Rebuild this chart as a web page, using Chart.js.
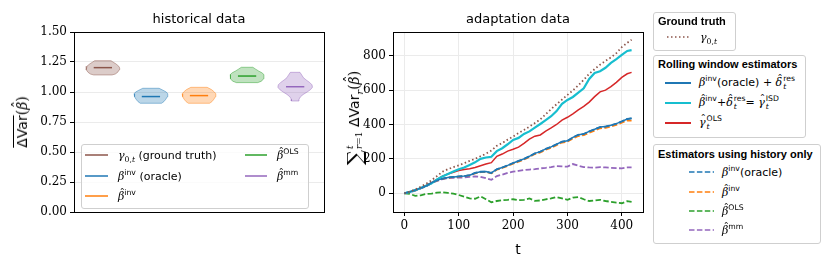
<!DOCTYPE html>
<html>
<head>
<meta charset="utf-8">
<script src="https://cdn.jsdelivr.net/npm/chart.js@4.4.0/dist/chart.umd.min.js"></script>
<style>
body { margin: 0; background: #fff; width: 830px; height: 269px; overflow: hidden; position: relative; font-family: "DejaVu Sans", sans-serif; color: #000; }
canvas { position: absolute; top: 0; }
.title { position: absolute; font-size: 13px; transform: translate(-50%, -50%); white-space: nowrap; }
.ylab { position: absolute; transform: translate(-50%, -50%) rotate(-90deg); white-space: nowrap; font-size: 14px; }
.m { font-family: "DejaVu Serif", "Liberation Serif", serif; font-style: italic; }
.r { font-family: "DejaVu Serif", "Liberation Serif", serif; }
.hat { position: relative; display: inline-block; }
.hat::after { content: "\02C6"; position: absolute; left: 0.14em; top: -0.3em; font-style: normal; }
.ss { display: inline-flex; flex-direction: column; vertical-align: middle; font-size: 70%; line-height: 1.05; margin-left: 1px; }
sup, sub { font-size: 70%; line-height: 0; }
.box { position: absolute; border: 1px solid #cfcfcf; border-radius: 3px; background: rgba(255,255,255,0.8); }
.btitle { position: absolute; font-family: "Liberation Sans", sans-serif; font-weight: bold; font-size: 11px; white-space: nowrap; transform: translateY(-50%); }
.row { position: absolute; white-space: nowrap; transform: translateY(-50%); font-size: 11px; }
svg { position: absolute; }
</style>
</head>
<body>
<canvas id="histChart" width="330" height="269" style="left:0px"></canvas>
<canvas id="adaptChart" width="320" height="269" style="left:330px"></canvas>
<div class="title" style="left:199px;top:18px">historical data</div>
<div class="title" style="left:518px;top:18px">adaptation data</div>
<div class="ylab" style="left:22px;top:122px"><span style="text-decoration:overline">ΔVar</span><span class="r">(</span><span class="m hat">β</span><span class="r">)</span></div>
<div class="ylab" style="left:355px;top:118px"><span class="r" style="font-size:21px;vertical-align:-3px">∑</span><span class="ss" style="font-size:9px"><span class="m">t</span><span><span class="m">r</span><span class="r">=1</span></span></span> ΔVar<sub class="m">r</sub><span class="r">(</span><span class="m hat">β</span><span class="r">)</span></div>
<div class="title" style="left:518px;top:249px;font-size:14px">t</div>
<div id="legends"></div>

<script>
// Historical data: violins (value levels and half widths)
const violinNames = ['gamma', 'invOracle', 'inv', 'ols', 'mm'];
const violinPos = [0, 1, 2, 3, 4];
const violinMedian = [1.203, 0.962, 0.970, 1.133, 1.044];
const violinLevels = [
    [1.142, 1.150, 1.165, 1.185, 1.200, 1.215, 1.235, 1.250, 1.261],
    [0.906, 0.920, 0.940, 0.960, 0.985, 1.000, 1.015, 1.031],
    [0.906, 0.920, 0.940, 0.960, 0.985, 1.000, 1.020, 1.039],
    [1.078, 1.090, 1.110, 1.130, 1.145, 1.160, 1.175, 1.190, 1.206],
    [0.925, 0.940, 0.960, 0.980, 1.000, 1.020, 1.040, 1.060, 1.080, 1.100, 1.120, 1.140, 1.164]
];
const violinWidths = [
    [0.19, 0.26, 0.31, 0.34, 0.35, 0.33, 0.27, 0.21, 0.17],
    [0.22, 0.27, 0.31, 0.34, 0.35, 0.32, 0.25, 0.17],
    [0.22, 0.27, 0.31, 0.34, 0.35, 0.32, 0.26, 0.17],
    [0.22, 0.30, 0.34, 0.35, 0.35, 0.31, 0.24, 0.18, 0.12],
    [0.08, 0.08, 0.11, 0.17, 0.25, 0.32, 0.36, 0.35, 0.30, 0.23, 0.17, 0.14, 0.10]
];
const violinColors = ['#8c564b', '#1f77b4', '#ff7f0e', '#2ca02c', '#9467bd'];
const histTicks = [0, 0.25, 0.5, 0.75, 1.0, 1.25, 1.5];

// Adaptation data: cumulative sums
const tVals = [0, 10, 20, 30, 40, 50, 60, 70, 80, 90, 100, 110, 120, 130, 140, 150, 160, 170, 180, 190, 200,
    210, 220, 230, 240, 250, 260, 270, 280, 290, 300, 310, 320, 330, 340, 350, 360, 370, 380, 390, 400, 410, 418];
const groundTruth = [0, 10, 22, 38, 55, 76, 100, 125, 140, 152, 162, 175, 188, 200, 215, 230, 248, 276, 292, 312,
    330, 350, 368, 388, 408, 430, 460, 490, 518, 545, 572, 598, 628, 660, 695, 722, 748, 770, 790, 815, 850, 875, 893];
const rollOracle = [0, 8, 18, 30, 42, 62, 75, 85, 92, 95, 98, 100, 105, 118, 125, 126, 118, 140, 150, 162,
    176, 188, 200, 215, 232, 242, 258, 270, 285, 300, 305, 325, 340, 345, 360, 372, 385, 388, 395, 405, 418, 432, 436];
const rollIsd = [0, 8, 18, 30, 44, 58, 80, 98, 112, 126, 140, 150, 165, 180, 200, 208, 212, 245, 262, 285,
    310, 322, 345, 360, 382, 403, 425, 448, 478, 520, 543, 560, 585, 610, 665, 700, 710, 730, 758, 780, 805, 828, 833];
const rollOls = [0, 8, 18, 30, 45, 62, 80, 100, 112, 122, 132, 138, 143, 150, 160, 170, 178, 215, 228, 245,
    256, 268, 290, 315, 332, 339, 362, 380, 400, 425, 442, 462, 485, 505, 530, 562, 590, 600, 620, 645, 674, 695, 703];
const histOracle = [0, 8, 18, 30, 42, 62, 75, 85, 92, 95, 98, 100, 105, 118, 125, 126, 118, 140, 150, 162,
    176, 188, 200, 215, 232, 242, 258, 270, 285, 300, 305, 325, 340, 345, 360, 372, 385, 388, 395, 405, 418, 432, 436];
const histInv = [0, 8, 17, 29, 41, 60, 74, 84, 91, 94, 97, 99, 104, 116, 123, 124, 116, 137, 147, 159,
    172, 184, 196, 211, 228, 237, 253, 265, 280, 295, 300, 318, 333, 338, 352, 365, 378, 381, 388, 398, 410, 424, 423];
const histOls = [0, -4, -15, -12, -4, -2, 4, 6, 2, -2, -10, -20, -30, -32, -18, -35, -52, -45, -40, -38,
    -35, -40, -38, -30, -44, -42, -35, -30, -22, -30, -38, -25, -22, -35, -45, -42, -38, -45, -50, -55, -58, -46, -50];
const histMm = [0, 6, 15, 28, 40, 58, 72, 82, 88, 90, 91, 92, 96, 98, 96, 88, 78, 100, 108, 118,
    126, 130, 135, 138, 140, 145, 148, 152, 158, 156, 155, 170, 160, 152, 150, 149, 152, 150, 148, 146, 145, 150, 150];
const adaptXTicks = [0, 100, 200, 300, 400];
const adaptYTicks = [0, 200, 400, 600, 800];

// Black frame around the axes
const frame = {
    id: 'frame',
    afterDatasetsDraw(chart) {
        const a = chart.chartArea, ctx = chart.ctx;
        ctx.save();
        ctx.strokeStyle = '#000';
        ctx.lineWidth = 1;
        ctx.strokeRect(Math.round(a.left) + 0.5, Math.round(a.top) + 0.5, Math.round(a.right - a.left), Math.round(a.bottom - a.top));
        ctx.restore();
    }
};

function rgba(hex, a) {
    const n = parseInt(hex.slice(1), 16);
    return `rgba(${n >> 16},${(n >> 8) & 255},${n & 255},${a})`;
}

const tickFont = { family: '"DejaVu Serif", "Liberation Serif", serif', size: 12 };

// Violin outlines built from levels and half widths
const histDatasets = [];
violinNames.forEach((name, i) => {
    const p = violinPos[i];
    const lv = violinLevels[i], w = violinWidths[i];
    const pts = lv.map((y, k) => ({ x: p + w[k], y }));
    for (let k = lv.length - 1; k >= 0; k--) pts.push({ x: p - w[k], y: lv[k] });
    pts.push(pts[0]);
    histDatasets.push({
        data: pts, fill: 'shape', borderColor: rgba(violinColors[i], 0.45), borderWidth: 1,
        backgroundColor: rgba(violinColors[i], 0.3), pointRadius: 0, tension: 0
    });
    histDatasets.push({
        data: [{ x: p - 0.19, y: violinMedian[i] }, { x: p + 0.19, y: violinMedian[i] }],
        borderColor: violinColors[i], borderWidth: 1.5, pointRadius: 0, fill: false
    });
});

new Chart(document.getElementById('histChart'), {
    type: 'line',
    data: { datasets: histDatasets },
    options: {
        responsive: false,
        animation: false,
        layout: { padding: { left: 0, right: 6, top: 32, bottom: 57 } },
        plugins: { legend: { display: false }, tooltip: { enabled: false } },
        scales: {
            x: { type: 'linear', min: -0.6, max: 4.6, display: false },
            y: {
                min: 0, max: 1.5,
                afterFit(s) { s.width = 74; },
                afterBuildTicks(s) { s.ticks = histTicks.map(v => ({ value: v })); },
                ticks: { callback: v => v.toFixed(2), font: tickFont, color: '#000', padding: 3 },
                grid: { color: '#ebebeb', tickColor: '#000', tickLength: 4 },
                border: { display: false }
            }
        }
    },
    plugins: [frame]
});

function line(data, color, width, dash) {
    return {
        data: tVals.map((t, i) => ({ x: t, y: data[i] })),
        borderColor: color, borderWidth: width, borderDash: dash || [],
        pointRadius: 0, tension: 0, fill: false
    };
}

new Chart(document.getElementById('adaptChart'), {
    type: 'line',
    data: {
        datasets: [
            line(histMm, '#9467bd', 1.8, [5.5, 2.4]),
            line(histOls, '#2ca02c', 1.8, [5.5, 2.4]),
            line(histInv, '#ff7f0e', 1.8, [5.5, 2.4]),
            line(histOracle, '#1f77b4', 1.8, [5.5, 2.4]),
            line(rollOls, '#d62728', 1.5),
            line(rollIsd, '#17becf', 2.2),
            line(rollOracle, '#1f77b4', 1.5),
            line(groundTruth, '#8c564b', 1.8, [1.5, 2.5])
        ].reverse()
    },
    options: {
        responsive: false,
        animation: false,
        layout: { padding: { left: 0, right: 7, top: 32, bottom: 0 } },
        plugins: { legend: { display: false }, tooltip: { enabled: false } },
        scales: {
            x: {
                type: 'linear', min: -21, max: 439,
                afterFit(s) { s.height = 57; },
                afterBuildTicks(s) { s.ticks = adaptXTicks.map(v => ({ value: v })); },
                ticks: { font: tickFont, color: '#000', padding: 3, maxRotation: 0 },
                grid: { color: '#ebebeb', tickColor: '#000', tickLength: 4 },
                border: { display: false }
            },
            y: {
                min: -109, max: 938,
                afterFit(s) { s.width = 63; },
                afterBuildTicks(s) { s.ticks = adaptYTicks.map(v => ({ value: v })); },
                ticks: { font: tickFont, color: '#000', padding: 3 },
                grid: { color: '#ebebeb', tickColor: '#000', tickLength: 4 },
                border: { display: false }
            }
        }
    },
    plugins: [frame]
});

// Legends (HTML so the math labels keep their super/subscripts)
const ss = (sup, sub) => `<span class="ss"><span>${sup}</span><span>${sub}</span></span>`;
const bhat = '<span class="m hat">β</span>';
const beta = '<span class="m">β</span>';
const dhat = '<span class="m hat">δ</span>';
const ghat = '<span class="m hat">γ</span>';
const tIt = '<span class="m">t</span>';
const gam0 = '<span class="m">γ</span><sub><span class="r">0,</span><span class="m">t</span></sub>';

const boxes = [
    { x: 81, y: 144, w: 226, h: 63, title: null },
    { x: 653, y: 12, w: 81, h: 37, title: 'Ground truth', ty: 21 },
    { x: 653, y: 55, w: 151, h: 81, title: 'Rolling window estimators', ty: 64 },
    { x: 653, y: 144, w: 166, h: 98, title: 'Estimators using history only', ty: 154 }
];
const dashed = '5.5,2.4';
const entries = [
    { x1: 85, x2: 108, y: 155, tx: 118, c: '#8c564b', lw: 1.5, label: gam0 + ' (ground truth)' },
    { x1: 85, x2: 108, y: 176, tx: 118, c: '#1f77b4', lw: 1.5, label: beta + '<sup>inv</sup> (oracle)' },
    { x1: 85, x2: 108, y: 196, tx: 118, c: '#ff7f0e', lw: 1.5, label: bhat + '<sup>inv</sup>' },
    { x1: 245, x2: 267, y: 155, tx: 277, c: '#2ca02c', lw: 1.5, label: bhat + '<sup>OLS</sup>' },
    { x1: 245, x2: 267, y: 176, tx: 277, c: '#9467bd', lw: 1.5, label: bhat + '<sup>mm</sup>' },
    { x1: 667, x2: 690, y: 37, tx: 700, c: '#8c564b', lw: 1.5, dash: '1.5,2.5', label: gam0 },
    { x1: 665, x2: 691, y: 83, tx: 699, c: '#1f77b4', lw: 2, label: beta + '<sup>inv</sup>(oracle) <span class="r">+</span> ' + dhat + ss('res', tIt) },
    { x1: 665, x2: 691, y: 103, tx: 699, c: '#17becf', lw: 2, label: bhat + '<sup>inv</sup><span class="r">+</span>' + dhat + ss('res', tIt) + '<span class="r">=</span> ' + ghat + ss('ISD', tIt) },
    { x1: 665, x2: 691, y: 123, tx: 699, c: '#d62728', lw: 2, label: ghat + ss('OLS', tIt) },
    { x1: 689, x2: 714, y: 172, tx: 722, c: '#1f77b4', lw: 1.5, dash: dashed, label: beta + '<sup>inv</sup>(oracle)' },
    { x1: 689, x2: 714, y: 192, tx: 722, c: '#ff7f0e', lw: 1.5, dash: dashed, label: bhat + '<sup>inv</sup>' },
    { x1: 689, x2: 714, y: 211, tx: 722, c: '#2ca02c', lw: 1.5, dash: dashed, label: bhat + '<sup>OLS</sup>' },
    { x1: 689, x2: 714, y: 230, tx: 722, c: '#9467bd', lw: 1.5, dash: dashed, label: bhat + '<sup>mm</sup>' }
];

let html = '';
boxes.forEach(b => {
    html += `<div class="box" style="left:${b.x}px;top:${b.y}px;width:${b.w}px;height:${b.h}px"></div>`;
    if (b.title) html += `<div class="btitle" style="left:${b.x + 5}px;top:${b.ty}px">${b.title}</div>`;
});
entries.forEach(e => {
    const w = e.x2 - e.x1;
    html += `<svg style="left:${e.x1}px;top:${e.y - 3}px" width="${w}" height="6"><line x1="0" y1="3" x2="${w}" y2="3" stroke="${e.c}" stroke-width="${e.lw}" ${e.dash ? `stroke-dasharray="${e.dash}"` : ''}/></svg>`;
    html += `<div class="row" style="left:${e.tx}px;top:${e.y}px">${e.label}</div>`;
});
document.getElementById('legends').innerHTML = html;
</script>
</body>
</html>
